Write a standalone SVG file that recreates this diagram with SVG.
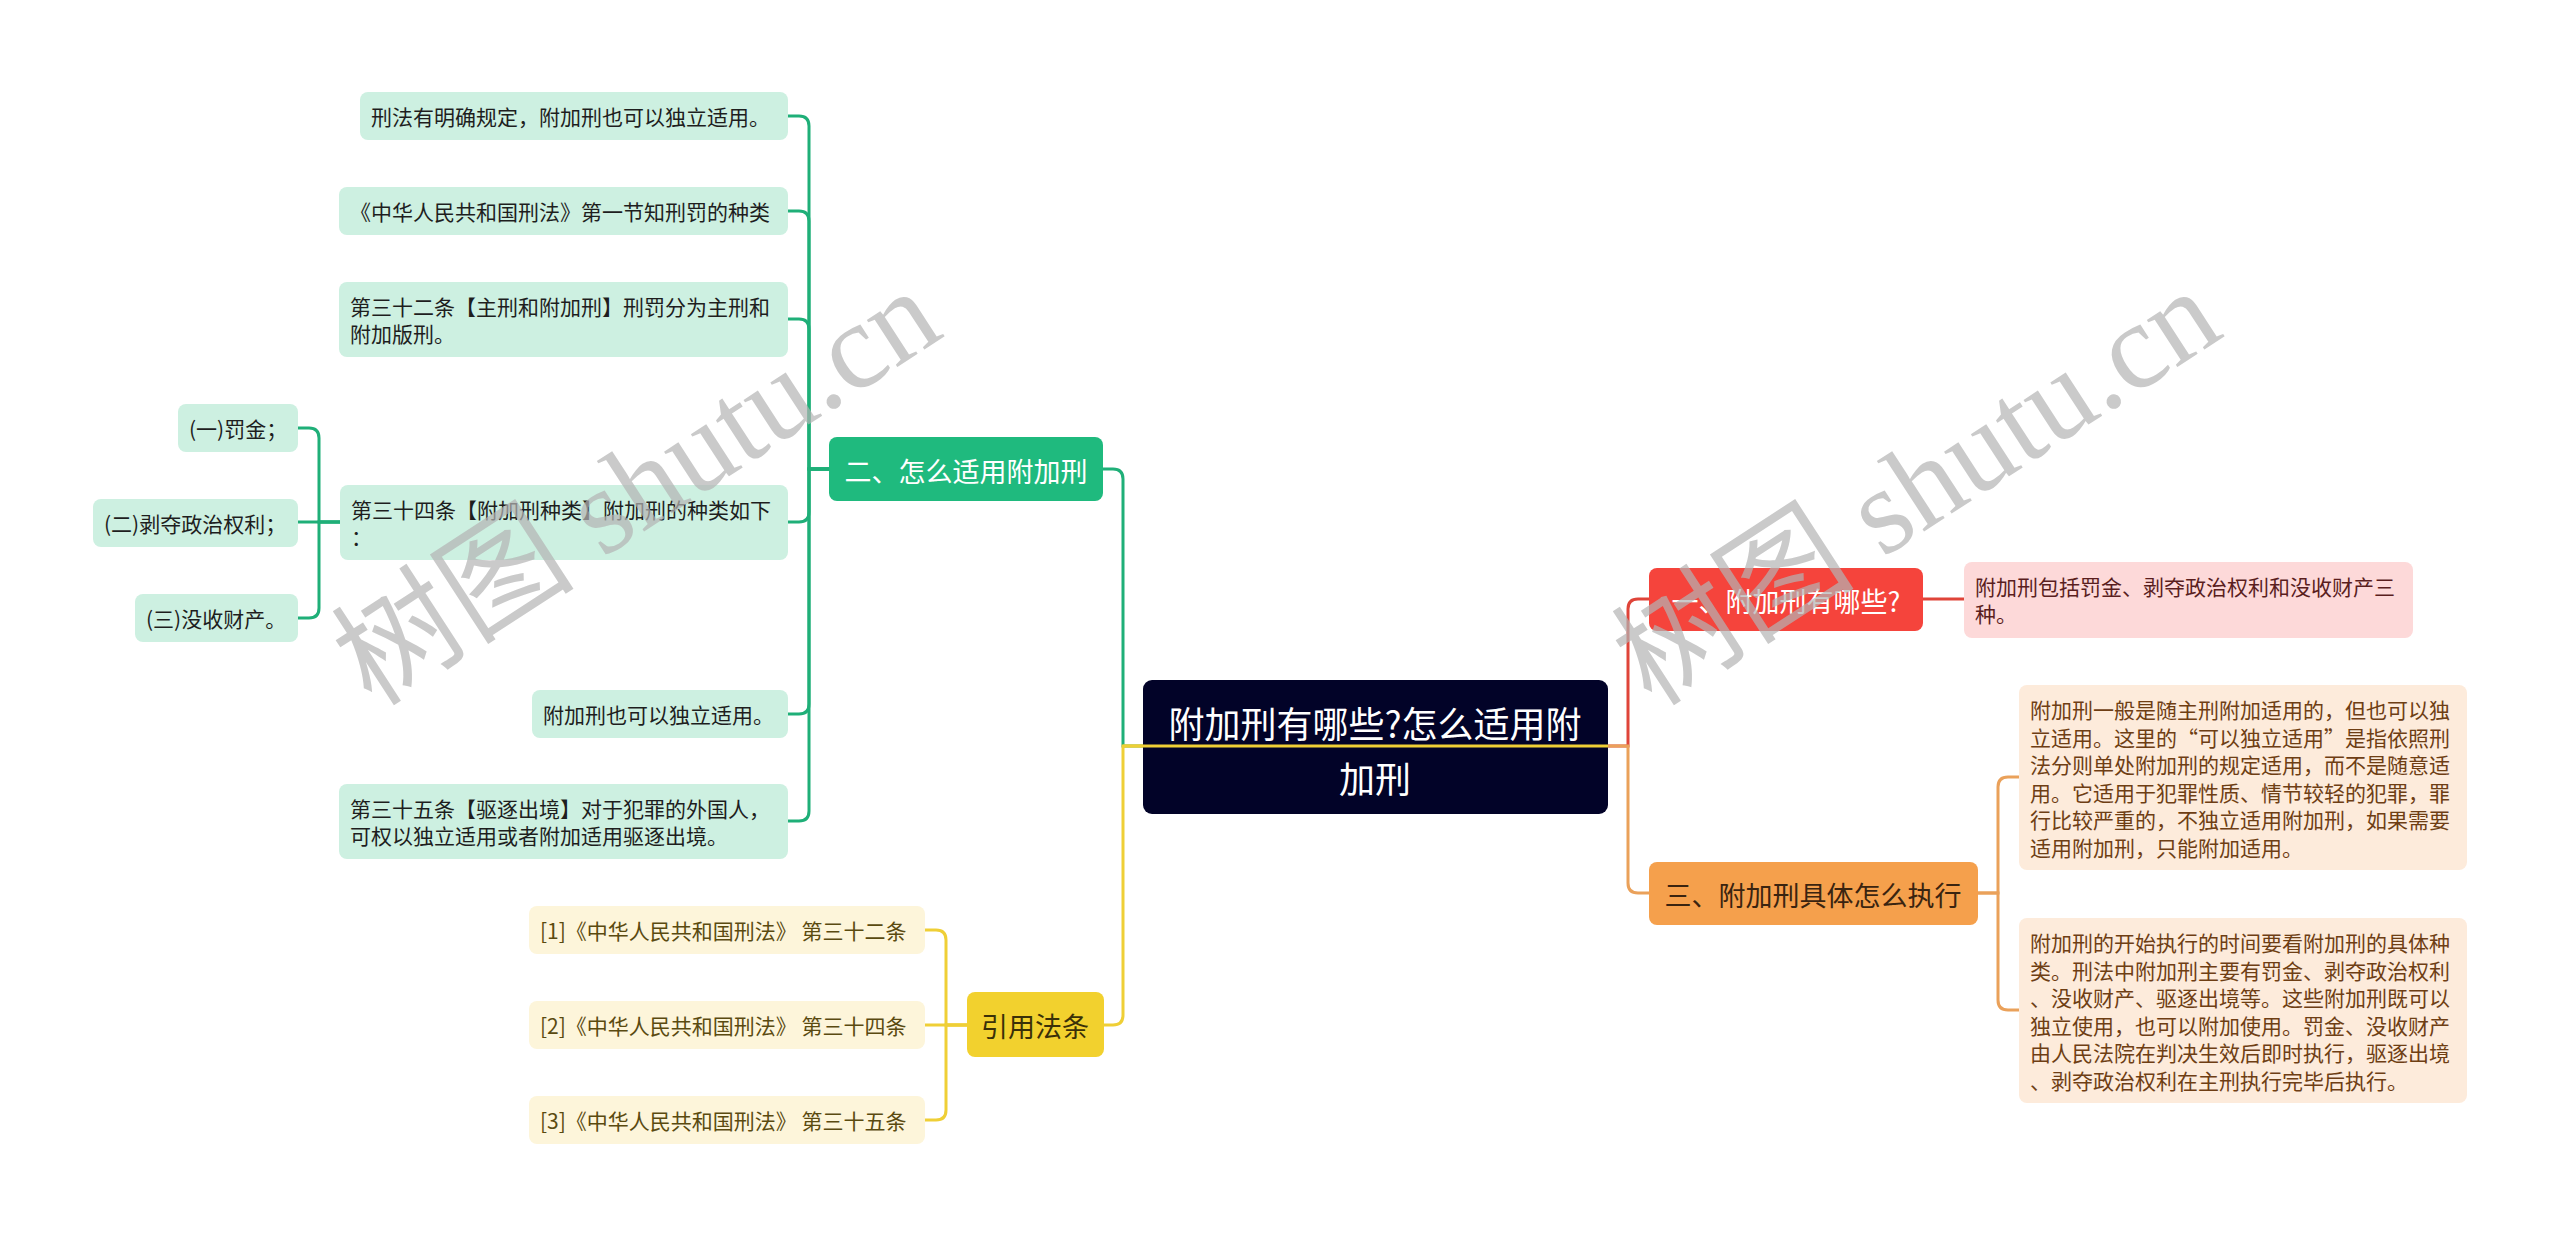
<svg xmlns="http://www.w3.org/2000/svg" width="2560" height="1236" viewBox="0 0 2560 1236">
<style>
text{font-family:'Noto Sans CJK SC','Noto Sans',sans-serif;}
.t21{font-size:21px;dominant-baseline:central;}
.t27{font-size:27px;dominant-baseline:central;text-anchor:middle;}
.gc{fill:#CDF0E1;} .gt{fill:#1E1E1E;}
.yc{fill:#FDF5DA;} .yt{fill:#5A4A10;}
.rc{fill:#FDD9D9;} .rt{fill:#5A1E1E;}
.oc{fill:#FDEBDB;} .ot{fill:#6E3E14;}
.lg{fill:none;stroke:#1FAF78;stroke-width:3;}
.ly{fill:none;stroke:#EFCF36;stroke-width:3;}
.lr{fill:none;stroke:#DF4439;stroke-width:3;}
.lo{fill:none;stroke:#EAA15A;stroke-width:3;}
text.wm{font-family:'Liberation Serif','Noto Sans CJK SC',serif;font-size:122px;fill:#B4B4B4;opacity:0.7;}
</style>
<rect width="2560" height="1236" fill="#FFFFFF"/>

<g id="nodes">
<g id="center">
<rect x="1143" y="680" width="465" height="134" rx="9" fill="#020328"/>
<text x="1375" y="722" font-size="36" fill="#FFFFFF" text-anchor="middle" dominant-baseline="central">附加刑有哪些?怎么适用附</text>
<text x="1375" y="777" font-size="36" fill="#FFFFFF" text-anchor="middle" dominant-baseline="central">加刑</text>
</g>

<g id="b2">
<rect x="829" y="437" width="274" height="64" rx="8" fill="#1FBA7E"/>
<text class="t27" x="966" y="470" fill="#FFFFFF">二、怎么适用附加刑</text>
</g>
<g id="g1"><rect class="gc" x="360" y="92" width="428" height="48" rx="8"/><text class="t21 gt" x="371" y="116">刑法有明确规定，附加刑也可以独立适用。</text></g>
<g id="g2"><rect class="gc" x="339" y="187" width="449" height="48" rx="8"/><text class="t21 gt" x="350" y="211">《中华人民共和国刑法》第一节知刑罚的种类</text></g>
<g id="g3"><rect class="gc" x="339" y="282" width="449" height="75" rx="8"/><text class="t21 gt" x="350" y="306">第三十二条【主刑和附加刑】刑罚分为主刑和</text><text class="t21 gt" x="350" y="333">附加版刑。</text></g>
<g id="g4"><rect class="gc" x="340" y="485" width="448" height="75" rx="8"/><text class="t21 gt" x="351" y="509">第三十四条【附加刑种类】附加刑的种类如下</text><text class="t21 gt" x="351" y="536">：</text></g>
<g id="g5"><rect class="gc" x="532" y="690" width="256" height="48" rx="8"/><text class="t21 gt" x="543" y="714">附加刑也可以独立适用。</text></g>
<g id="g6"><rect class="gc" x="339" y="784" width="449" height="75" rx="8"/><text class="t21 gt" x="350" y="808">第三十五条【驱逐出境】对于犯罪的外国人，</text><text class="t21 gt" x="350" y="835">可权以独立适用或者附加适用驱逐出境。</text></g>
<g id="g4a"><rect class="gc" x="178" y="404" width="120" height="48" rx="8"/><text class="t21 gt" x="189" y="428">(一)罚金；</text></g>
<g id="g4b"><rect class="gc" x="93" y="499" width="205" height="48" rx="8"/><text class="t21 gt" x="104" y="523">(二)剥夺政治权利；</text></g>
<g id="g4c"><rect class="gc" x="135" y="594" width="163" height="48" rx="8"/><text class="t21 gt" x="146" y="618">(三)没收财产。</text></g>

<g id="b4">
<rect x="967" y="992" width="137" height="65" rx="8" fill="#F2D12E"/>
<text class="t27" x="1035" y="1025" fill="#3A3008">引用法条</text>
</g>
<g id="y1"><rect class="yc" x="529" y="906" width="396" height="48" rx="8"/><text class="t21 yt" x="540" y="930">[1]《中华人民共和国刑法》 第三十二条</text></g>
<g id="y2"><rect class="yc" x="529" y="1001" width="396" height="48" rx="8"/><text class="t21 yt" x="540" y="1025">[2]《中华人民共和国刑法》 第三十四条</text></g>
<g id="y3"><rect class="yc" x="529" y="1096" width="396" height="48" rx="8"/><text class="t21 yt" x="540" y="1120">[3]《中华人民共和国刑法》 第三十五条</text></g>

<g id="b1">
<rect x="1649" y="568" width="274" height="63" rx="8" fill="#F5443C"/>
<text class="t27" x="1786" y="600" fill="#FFFFFF">一、附加刑有哪些?</text>
</g>
<g id="r1"><rect class="rc" x="1964" y="562" width="449" height="76" rx="8"/><text class="t21 rt" x="1975" y="586">附加刑包括罚金、剥夺政治权利和没收财产三</text><text class="t21 rt" x="1975" y="613">种。</text></g>

<g id="b3">
<rect x="1649" y="862" width="329" height="63" rx="8" fill="#F5A04C"/>
<text class="t27" x="1813" y="894" fill="#3A2410">三、附加刑具体怎么执行</text>
</g>
<g id="o1"><rect class="oc" x="2019" y="685" width="448" height="185" rx="8"/>
<text class="t21 ot" x="2030" y="709">附加刑一般是随主刑附加适用的，但也可以独</text>
<text class="t21 ot" x="2030" y="736.5">立适用。这里的“可以独立适用”是指依照刑</text>
<text class="t21 ot" x="2030" y="764">法分则单处附加刑的规定适用，而不是随意适</text>
<text class="t21 ot" x="2030" y="791.5">用。它适用于犯罪性质、情节较轻的犯罪，罪</text>
<text class="t21 ot" x="2030" y="819">行比较严重的，不独立适用附加刑，如果需要</text>
<text class="t21 ot" x="2030" y="846.5">适用附加刑，只能附加适用。</text>
</g>
<g id="o2"><rect class="oc" x="2019" y="918" width="448" height="185" rx="8"/>
<text class="t21 ot" x="2030" y="942">附加刑的开始执行的时间要看附加刑的具体种</text>
<text class="t21 ot" x="2030" y="969.5">类。刑法中附加刑主要有罚金、剥夺政治权利</text>
<text class="t21 ot" x="2030" y="997">、没收财产、驱逐出境等。这些附加刑既可以</text>
<text class="t21 ot" x="2030" y="1024.5">独立使用，也可以附加使用。罚金、没收财产</text>
<text class="t21 ot" x="2030" y="1052">由人民法院在判决生效后即时执行，驱逐出境</text>
<text class="t21 ot" x="2030" y="1079.5">、剥夺政治权利在主刑执行完毕后执行。</text>
</g>
</g>

<g id="connectors">
<path class="lg" d="M1143 746 H1123 V479 Q1123 469 1113 469 H1103"/>
<path class="ly" d="M1143 746 H1123 V1015 Q1123 1025 1113 1025 H1104"/>
<path class="ly" d="M1123 746 H1608"/>
<path class="lr" d="M1608 746 H1628 V609 Q1628 599 1638 599 H1649"/>
<path class="lo" d="M1608 746 H1628 V883 Q1628 893 1638 893 H1649"/>
<path class="lr" d="M1923 599 H1964"/>
<path class="lo" d="M1978 893 H1998 V787 Q1998 777 2008 777 H2019"/>
<path class="lo" d="M1978 893 H1998 V1000 Q1998 1010 2008 1010 H2019"/>
<path class="lg" d="M829 469 H809 V126 Q809 116 799 116 H788"/>
<path class="lg" d="M829 469 H809 V221 Q809 211 799 211 H788"/>
<path class="lg" d="M829 469 H809 V329 Q809 319 799 319 H788"/>
<path class="lg" d="M829 469 H809 V512 Q809 522 799 522 H788"/>
<path class="lg" d="M829 469 H809 V704 Q809 714 799 714 H788"/>
<path class="lg" d="M829 469 H809 V811 Q809 821 799 821 H788"/>
<path class="lg" d="M340 522 H319 V438 Q319 428 309 428 H298"/>
<path class="lg" d="M340 522 H298"/>
<path class="lg" d="M340 522 H319 V608 Q319 618 309 618 H298"/>
<path class="ly" d="M967 1025 H946 V940 Q946 930 936 930 H925"/>
<path class="ly" d="M967 1025 H925"/>
<path class="ly" d="M967 1025 H946 V1110 Q946 1120 936 1120 H925"/>
</g>

<g id="watermarks">
<text class="wm" x="372" y="708" transform="rotate(-33 372 708)">树图 shutu.cn</text>
<text class="wm" x="1652" y="708" transform="rotate(-33 1652 708)">树图 shutu.cn</text>
</g>
</svg>
